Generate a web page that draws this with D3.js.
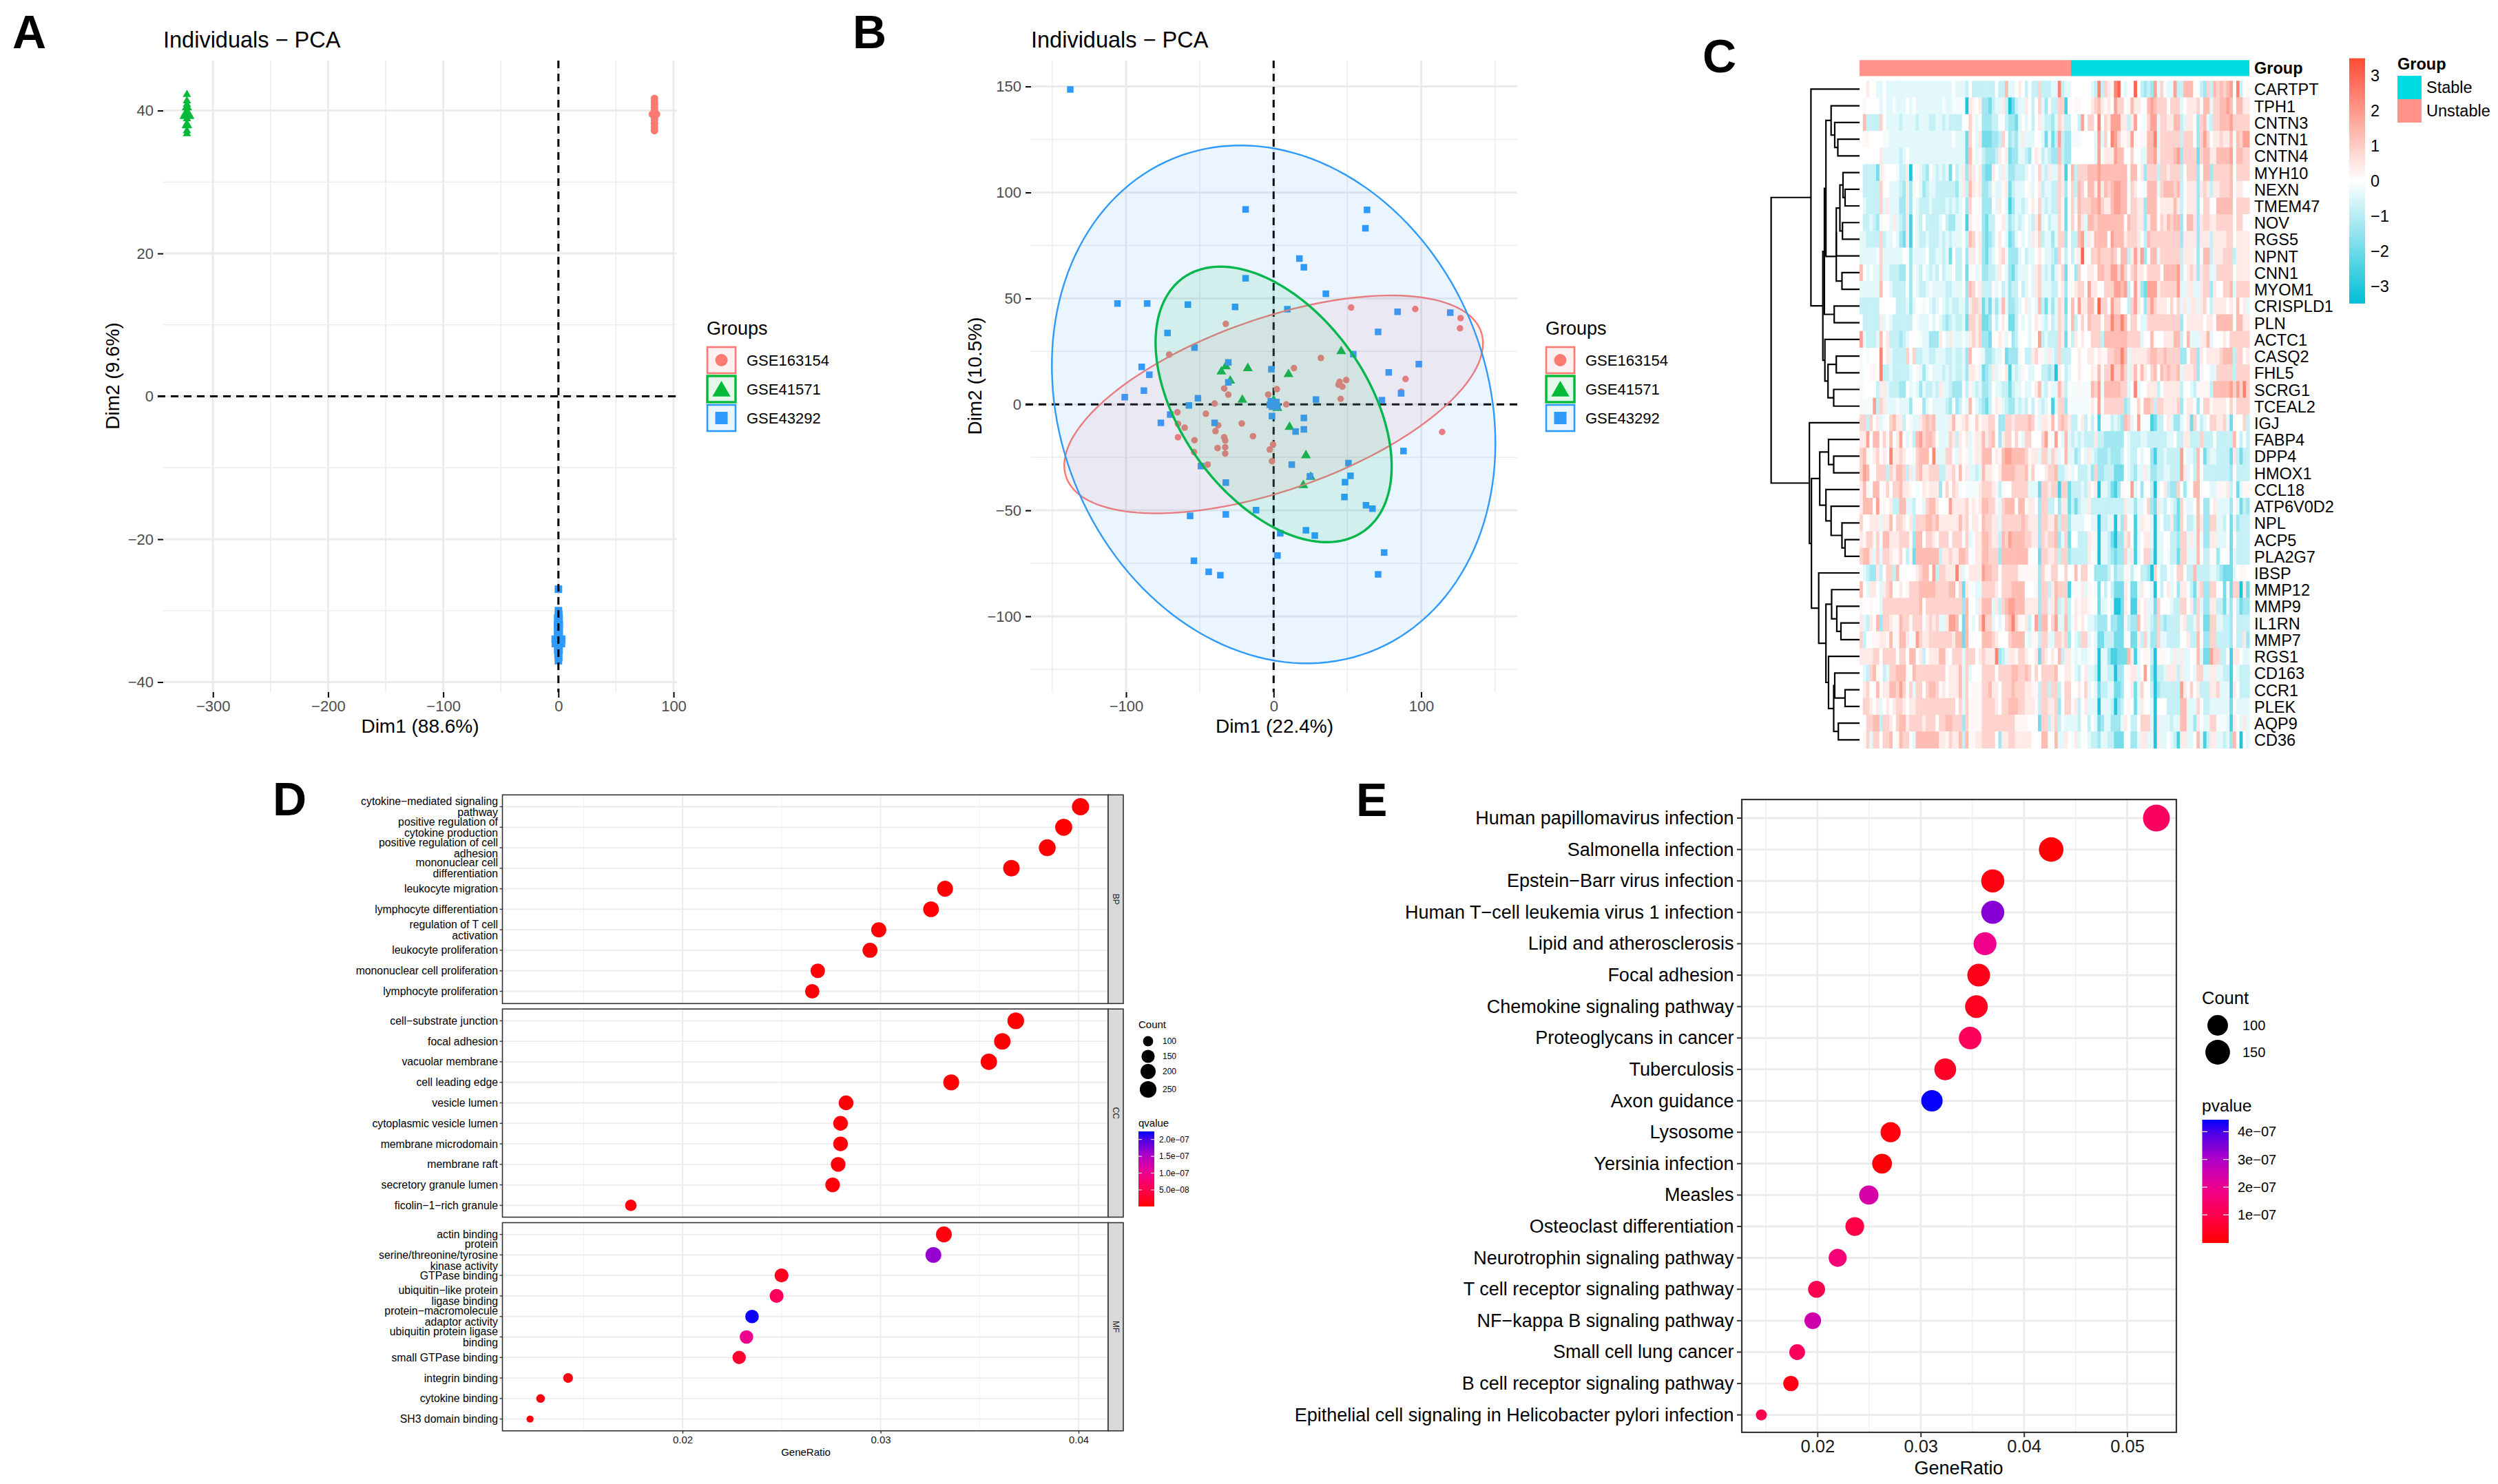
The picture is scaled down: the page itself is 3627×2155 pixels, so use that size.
<!DOCTYPE html>
<html><head><meta charset="utf-8">
<script src="https://cdn.jsdelivr.net/npm/d3@7"></script>
<style>html,body{margin:0;background:#fff}svg{display:block}text{font-family:"Liberation Sans",Arial,sans-serif}</style>
</head><body><svg id="c" width="3627" height="2155"></svg>
<script>
// ---------- DATA ----------
const groupNames=["GSE163154","GSE41571","GSE43292"];
// Panel A scores
const aRedX=[83.4,83.4,83.4,83.4,83.4,83.4,83.4,81.6,85.2,83.4,83.4,83.4,83.4,83.4];
const aRedY=[41.7,41.2,40.8,40.4,40,39.6,39.5,39.5,39.5,39.1,38.7,38.2,37.7,37.2];
const aGreenX=[-322.6,-322.6,-322.6,-323.5,-321.7,-322.6,-324.5,-320.7,-325.5,-319.7,-322.6,-322.6,-323.6,-321.6,-322.6,-322.6];
const aGreenY=[42.4,41.5,41,40.5,40.5,40,39.6,39.6,39.3,39.3,39,38.3,38,38,37.3,36.9];
const aBlueX=[0,0,.3,-.6,.6,-.8,.8,-.7,.7,-2.8,2.8,0,-2.6,2.6,-.6,.6,-.3,.3,0];
const aBlueY=[-27,-30,-30.5,-31,-31,-32,-32,-33,-33,-34,-34,-34,-34.6,-34.6,-35.5,-35.5,-36.2,-36.5,-37];
// Panel B scores
const bRedX=[-32.4,52.5,96,126.7,126.3,-70.8,32,13.8,49.2,44.7,44,46.6,89.4,86.4,45.4,2.2,-33.5,-30.7,-40,8.6,-45.9,-65.2,-37.6,-21.6,-64.8,-60.3,-39.4,-14,-64.8,-53.6,-33.5,-32.8,-.4,-2.6,-32.8,-38,-32.8,-53.9,-44.7,-1.1,114.2,-3.7];
const bRedY=[38,45.7,45,40.7,35.9,23.5,21.9,17.1,11.5,10.6,9.3,8.4,12,6,2.6,7.2,7.5,4.6,.4,0,-4.4,-3.7,-9.9,-9,-9.2,-11,-12.6,-15,-15.5,-16.9,-15.5,-17,-18.9,-21.3,-20.2,-20.6,-23.2,-22.5,-28.4,-26.8,-13,4.6];
const bGreenX=[-32.4,-35.4,-17.5,-29.4,10.1,-21.2,45.8,10.8,21.9,25.1,20.1,0,2.6];
const bGreenY=[18.5,16,17.6,11.7,14.8,2.7,25.6,-10.1,-23.5,-33.7,-37.6,2.5,-1.2];
const bBlueX=[-137.8,-19,63.3,62.2,17.5,20.5,-19,35.4,-105.8,-85.7,-58.1,-26.1,9.3,84,119.7,-71.9,70.8,-53.6,-30.7,54,-1.5,-89.4,-84.2,98.4,78,-30.7,-87.9,-100.9,86.4,73.4,-51.3,28.7,-57.4,-70.1,-76.4,-1.1,-40,20.5,20.5,14.9,88,50.7,12.3,-49.2,52.1,24.6,48.4,-32.4,48,62.6,67,-11.9,-32.4,-56.6,21.9,27.9,4.5,2.6,74.9,-54,-44,-36.1,70.8,-1.9,1.9,-1.1,2.6,-2.6];
const bBlueY=[148.6,92,91.8,83.1,68.8,64.7,59.5,52.2,47.6,47.6,47.1,46,44.9,43.7,43.3,33.7,34.2,26.8,19.8,23.7,16.6,17.7,14,19,15.1,10.4,6.5,3.4,5.2,2,2.9,2.3,-.5,-4.8,-8.7,-5.5,-8.7,-6.4,-11.8,-12.8,-22,-27.7,-28.4,-29.1,-33.7,-33.9,-36.7,-36.9,-43.7,-47.6,-49.2,-49.9,-51.9,-52.6,-59.4,-61.9,-60.8,-71.3,-69.9,-73.8,-79,-80.6,-80.2,1.5,1.1,-1.1,-1.1,-.2];
// Confidence ellipses: half-width, half-height, correlation (same order as the groups)
const ellipseA=[141.9,80,150.3];
const ellipseB=[51.4,65,122.2];
const ellipseRho=[.56,-.45,-.15];
// Panel C
const genes=["CARTPT","TPH1","CNTN3","CNTN1","CNTN4","MYH10","NEXN","TMEM47","NOV","RGS5","NPNT","CNN1","MYOM1","CRISPLD1","PLN","ACTC1","CASQ2","FHL5","SCRG1","TCEAL2","IGJ","FABP4","DPP4","HMOX1","CCL18","ATP6V0D2","NPL","ACP5","PLA2G7","IBSP","MMP12","MMP9","IL1RN","MMP7","RGS1","CD163","CCR1","PLEK","AQP9","CD36"];
const unstableCols=64, stableCols=54;
const heatLevels="ABCDEFGHIJKLMNO";
const heatValues=[-3.1,-2.5,-1.9,-1.3,-.8,-.4,-.15,0,.15,.4,.85,1.3,1.8,2.4,3];
const unstableRows=[
"HHJHHFFH FFFFFFFF FFFFFFFF FFFFHFFF EHEEEEEE EHEELFFH JHEHEEKE EEFFNEFF",
"HIHHHHFH FFGFFFHF HFFFFFFF FGFFGGGG AJIHJDDC EFFJEACE FFJHEHKF DIEEKKBH",
"HLEEEEKH FFFFEFFF FEFFFEEF FEFEEEEH HKIFHDDD EEHHEDDC FHFHEHJF EEDFKJEE",
"HIIHHHHG GFFFFFFF FFFFFFFF FFFFHFFF CKHFJCCC DDEKHDED FJFFFHHF CFCEMEDD",
"HHHHHHJF FFFFEFHF FFFFFFFF FFFFFFFF CLIFIEDD DEJHJCDD FFEDHJIE FEDDLEDD",
"HEEEECJI HHHGEEJA HIFEDHFE FEFCHEFJ DKJHJDCC JHFJFDDE EEFHFHKF EJFFKJBH",
"HEEEEEKH HFFFEDJD IHFDEFFE EEEEEDFJ ELJIJDDE IFFIJCEF FFHIFHJE FFEEKJDH",
"HFEEEEKF JFFFDDJD HFEEEFEE EEFEFEFH DKHHIDDD HFJHFBDF FEFHJHKF EFEEKICH",
"HEEFEDIH HFJFEDJB HFEHEEEE FHEDDFFH BJHIHDCE EHHJFDEF EFHFEJLF HEFFKICH",
"FFEEEEKE FFHFDCJB HFEEFEEE FEFEFFFH ELKIJDCD EHJHFCDF HFHFJIKE FFDFKKDH",
"FFFFFGKF FFFFFHHD FFFFHEEF FEFCHEEH DJJHJDCE FHJKIDDD FHEFFHJH FFEDKHEH",
"LHFHFFKF FEEEDDHD IFEGFEFE HEFFHEEH CIHFIDDE EFJHFDCE FFFHFJKF EFDFIKCH",
"FFFFFFLH HFEEEEHD HFEEFGFF FFEEFFFH DLKIJEEE IFHEFDEE HEFHFJKF FFEEIJDH",
"EEEEEEHH HHHEEEFD FHHGHFEF HFEFEEFF DJKKJCEC FDFLFDDE FHJFHFLE CFDFKJCH",
"HEEEEEJF HFEEEEEE HGFFFHFH FEDEFEEF CKKJKCCD HEHJHCCE HFHFHJIF EIEFKJDH",
"MFEEEFLH JEEEDEFH HHGFFDDD JHFJFFFG FJKJKDDC HHJIFHDE HHHFHHME FEEEKJCH",
"GHGHHHNH JFEEEEKH KEEFFEEF FFEEFEEF DLHHIFDD EFFHCDDD IHEEJKII FJFEKEEE",
"GHHIIHNE EFEEEEEF HIFDFHFF FEFEFEEF DJJIFCDE JFIHJBFE FIHFFHHE EDEAJHEF",
"IHHHHEJJ FEEEDDHF GFDFEEFE JFFEDDDH EIFEFDDE HFFEECEF FHFFHJLF EIFFLJEH",
"GGGGMEKJ FFFGFFFD HHHDFHFF FFEDGDEH FLHFEDCE HJIFEDDF EFEHEHFE FHBFKKDH",
"KKEKHJFG HKLJJEHG FFJKLKLF FFFJLIIJ KIHKIJJK KHDDKKJK KKKLKIFJ JILHKLKJ",
"JJMHLLHK ILHJMHFI ELMKLLKH FFFKJEJH JFIJJLJK LHDJKKHK HFKKHHHK MHHMHFLF",
"KLIHJKHJ HNJJKJHH GKLLLHNF FFKKGFJH IFIJJLLL HJILMMLL LLKIJJFK KFKJFHLF",
"KMLHHKKK EKJLLKEJ FKLJJKKK EEJJKILH JFFEFLJJ IHJLLLLK KKLIKHHH JKKLEEFI",
"JLIHLLHI KHKKLJJI HGHJIJJJ DHKHKJGH GGGGJKKK JIEIHHKK KKKFFFCK KJKKBKKC",
"JLLLHMHI HJEELLFF EHHFKLLJ HHHMJJJJ KIJIJLLK KIFKLLLH LLIJJHDK KEEHDJJC",
"KHHJJJFJ JLHKKJHJ EKKKLLKL JJJJJJLJ KHJJHLKK JJFKKKKK KLKJJJDK KJJLEKKD",
"JIKKIKGL LJJJKKKI DLLHKKJI KKKHKKKH KFGJJLLK JJELKMLL LLKKJJDK JKKLDFKC",
"KLLJFKFK KJIIKHEI CLLLLLLL EJJKJJLL KHGJJLLK KKDLLLLL LLLHHHCK KJJKEKKD",
"HFEDDJEH KKELHHHH HJKLLHME KKJJJNJF HJJJJMLL KKHKKKKK IIIIIIDK IIKKHHKH",
"LHFJJHFJ KLHHJHIK KKLLLLLK KKKLLHKC JHGFFKKK KJHKKKLL LLHHHIDK KEJLKKKB",
"IHHIHHFK KKKKKKKK KKLHKKKK KKKKKKKD LHHFJLLL FJEKLMML LLJJJJDK KFJLEFKE",
"JFEJHLDK KJIILKKI KKKGJKJK FFJMMLHC LHFHKNKK FHFHKLNK IIJEHMDL LHKMFFLE",
"KEHHIIJJ ILIILLJG GMKJJKKK KKKKJLLC LHHHHLLL KJHHHKLL LLGFIIEK KFFKKJKD",
"JJJJKKHK KKKHKKHL LHJEHJJJ LLIHKKKF KKKHJKJJ JNDEFJJI KKJHHJCK JHJHLEJJ",
"HFEKLIHE FKKLLLIH LKKKKKKK KKHJJJLF KFHHHKKK KHKKKKLL KKLKHKHK KKKLHHJJ",
"HJKHHLHJ JLLKMKHK FKKHKLLK IJHJJJLF KHIIIKKL JJHKKKLK KKJJIIEK KEKKEHKK",
"HKKJHJFH JHJKKJHJ JKKKKKKK KKKKKHKF KIIIIKKK KJHKKLLL KKJJJIEK KJJKDHKK",
"HHKKLLEK KJHKLLJK KKKJKKKH KKLLKKKD KIIIIKKK KKKKKKKI IIIHHHCK KEJKEGFF",
"HIKFKKHK KLHILKKH FLLLLLLL JJIKJJLE LIIJJKKK KHDJJKKJ JJJJHHHL LHHLFFJH"];
const stableRows=[
"HHHHHHFE NEKJINOH FHHOHEDE DMFKGFFM EELLLHHE DKELKLKL MHNEHI",
"HIIHHHJK LJIJHMKK HILJJHHL MLKKKHKK KFHJJJKH LLFKKLLM LHLLJJ",
"HHEMHKKH NHKJMMMJ JEJMHGGK MMFKKJJL LEFJJHDK LFEKKLLL MKKKKK",
"GGGHHHHF MFKHNMKI IJMIHIIL LNFKKKKK KEKKKHDK MKHJJKJJ LHLKMM",
"HHHHHHHF MHJJJMLL HHKHHFFL LMFKKKKL MDKKKKCK LLJJLLLL MHLLKK",
"LEKKKLLL MLLLLLLL LHLLHJDK KKEKKJKK KEHKKKDH LLDKKKKK LHKKKK",
"KELKHLLJ MJLKLMML LGKJHGGL LLFKLLLK LEHJJJDJ KJEJJKKK LHJJHH",
"KFLKKKLL MKJJLMML LHKKJJDL LLHJJJJL JEHJJJDH KKHHLLLL LHKKKK",
"KHLJFLLK LLLLLLLL HLKKJJDJ LLHKJLKL LDHLLJDJ KKJJKKKK KHKKHH",
"EELMFJIL LLLHMLLL JKKKJHEL KKKKKKKK KDJJJJDJ JJEJJJJK KHJJJJ",
"EIJOHHKK LKKKLKHL LEJMJMDG LLFKKKKK KEJJJIDI LLEJJJKK KEJJJJ",
"HDKHHJJH LLKKMMKM KHKLJJHK KKKHLLLL MEHJKJDJ KKFFKKKK KHJJJJ",
"IJKKHMJJ HHKKKMML MEHMJDCM MMJKKKKK MFFJJFFJ KKDJHHKK LFKKKK",
"LHMJJLLH OKKHMKKH HEKMJHDK MKJJJHKH KFJFJJFJ KHEJJJJH JHLHJF",
"LEHKHLKK KHKKNLLN LHKKHFFK KKKKKKKK KDHJJJJJ HJJHLLLL LHLLJJ",
"EJHJHHKK KELLLLLL LKKKKFHH LHHHJJJL LEHLFFFJ JLFHHHJH KKKKKK",
"HHJHHJJH JIIKKLLN LFJJJJJK LLKKLKKK KDDHKKDJ HJJJJKLL LEKKHJ",
"HHJHHHJI LIKKNKKM KFJLILJH KLHLKLKK LFJJJKDI HHFFKKKK KEKKKK",
"GGIGGGLK MGLLLLLK KFHNFHHJ JJEHJJJJ JEHHFEII IIELLLLL MKMKNK",
"GGGGGGJH MHKKKKKK DEHHKHLL KEKKJJJJ KDHJJHDH KKIJJJJH KIKKKK",
"EEHJEHEH BGGGEFED LKFHMHGG BCEEHJFD DFHJCKGE FHKKJJKF CHHHKE",
"EFEFEEEJ EEDDDDDD HFEEEFFE EEEEEFFH EEJJEEEK EEEHEEEE ELHEHE",
"FDEHFJFE DDDEDDDE HFEEHFHH DBEEFEEE EMHFFELH CEFFEEEE CJECEE",
"FHEEEFDK DDEEECCC HFEDFFJF DDEEFFEE EMJFHELH EEEEEEEE DHEEEE",
"EEEFEJHJ AFFECBDI HHMFHDHH EAFHJEDD KHDGHLLH HHFFIIIJ EHCFII",
"ECEFFJEE EEEEEEEE JFFDFFHK DCJFEHFE CKGFFHLH DDHJFFFF DHFCED",
"FFFFHHFF AEEFFAFD KHHBFJII FAFHEEJD CKHEEFLJ DDKKFFEH CFDEEE",
"HHEEEJII AFFECADD JKHBFHJJ FAFFHHEE DKKFJFLG DDJJFFFH CHEEEE",
"EEEEEJGG AFFEDCDD KFJBFHKK EAFFHGEE CKKFFFLH EEIIDGHH CFEEEE",
"HLHKKHHD DDDEGDEE IIEGHEED AKHEEHFH KKHEELEE EEFFEDCC CFHIIH",
"GIGJFIHG CGEHECCC JGCCFJHH FAHEHJFH DJJGECJK DDKKHHCH CKKAJC",
"HJIJJIHH CFFHFAAC JHBBJHJF FCKHHHFE EKKHJDKF DDJJEECF DHECDD",
"GJHJHFFE DDDHDDCC IEDDLHJF EDKEDEEE EIJEEFKG CCKKFFEE DHEEEE",
"HFEKKFHF CCEEECCC HHCCJEKF DDKFFEEE EHHJEELH DDKKEEEE DHEEJD",
"GFGFFGHF AFFDBBCC CLJBFHII EAIIGHFJ FJFFHHLF CCMKKEEH BJJHFF",
"HFEHJFFE AFFEEADD HIJJFHMH DAEEFJJJ EJFFHFKK FFJJFFEE BHFEEE",
"HHJHKFHF CEEFFCCD HHJCFKHH EADEEEEE EMJGKHJE EEJJKFFF BJHEEE",
"IJEHJFFF AFFFEADE HIHCFJHH FAHHHEEE ELLFFFKH EEFFFFFF CHFFFF",
"FFEHHEHF CDFFDDDF JHEEHKKK FAJFFFEF FLLFFDJH FFKKGGGF BJHFJF",
"GJFHHFEE DFFEECCC HHDDFJJF FAJFFHFE BJJFFHLF BEJJFFEF DLHAHF"];
// Dendrogram [merge height, child, child]
const treeTop=[171,
 [94,"CARTPT",
  [71,
   [68,
    [65,
     [55,"TPH1",[48,"CNTN3",[42,"CNTN1","CNTN4"]]],
     [45,
      [45,
       [38,[32,"MYH10",[28,"NEXN","TMEM47"]],[33,"NOV","RGS5"]],
       "NPNT"],
      [34,"CNN1","MYOM1"]]],
    [49,"CRISPLD1","PLN"]],
   [67,"ACTC1",[61,[45,"CASQ2","FHL5"],[50,"SCRG1","TCEAL2"]]]]],
 [97,"IGJ",
  [93,
   [77,
    [60,"FABP4",[50,"DPP4","HMOX1"]],
    [65,"CCL18",[55,"ATP6V0D2",[34,"NPL",[28,"ACP5","PLA2G7"]]]]],
   [79,"IBSP",
    [65,
     [54,"MMP12",[44,"MMP9",[36,"IL1RN","MMP7"]]],
     [60,"RGS1",[50,[48,"CD163",[28,"CCR1","PLEK"]],[41,"AQP9","CD36"]]]]]]]];
// Panel D
const dFacets=["BP","CC","MF"];
const dTerms=[
[["cytokine−mediated signaling","pathway"],["positive regulation of","cytokine production"],["positive regulation of cell","adhesion"],["mononuclear cell","differentiation"],["leukocyte migration"],["lymphocyte differentiation"],["regulation of T cell","activation"],["leukocyte proliferation"],["mononuclear cell proliferation"],["lymphocyte proliferation"]],
[["cell−substrate junction"],["focal adhesion"],["vacuolar membrane"],["cell leading edge"],["vesicle lumen"],["cytoplasmic vesicle lumen"],["membrane microdomain"],["membrane raft"],["secretory granule lumen"],["ficolin−1−rich granule"]],
[["actin binding"],["protein","serine/threonine/tyrosine","kinase activity"],["GTPase binding"],["ubiquitin−like protein","ligase binding"],["protein−macromolecule","adaptor activity"],["ubiquitin protein ligase","binding"],["small GTPase binding"],["integrin binding"],["cytokine binding"],["SH3 domain binding"]]];
const dRatio=[[.0401,.03925,.03842,.03661,.03326,.03255,.02991,.02947,.02683,.02655],[.03683,.03615,.03547,.03357,.02826,.02798,.02798,.02786,.02758,.01739],[.0332,.03267,.025,.02475,.02351,.02323,.02286,.01422,.01283,.0123]];
const dCount=[[269,263,257,245,223,218,200,197,180,178],[247,242,238,225,189,187,187,187,185,117],[222,219,168,166,157,156,153,95,86,82]];
const dQ=[[.02e-7,.02e-7,.02e-7,.02e-7,.03e-7,.03e-7,.04e-7,.04e-7,.04e-7,.04e-7],[.02e-7,.03e-7,.03e-7,.04e-7,.05e-7,.05e-7,.05e-7,.05e-7,.05e-7,.08e-7],[.08e-7,1.65e-7,.2e-7,.6e-7,2.2e-7,1.0e-7,.3e-7,.1e-7,.1e-7,.1e-7]];
const dSizeLegend=[100,150,200,250];
const dColorTicks=[2e-7,1.5e-7,1e-7,.5e-7], dColorLabels=["2.0e−07","1.5e−07","1.0e−07","5.0e−08"];
// Panel E
const eTerms=["Human papillomavirus infection","Salmonella infection","Epstein−Barr virus infection","Human T−cell leukemia virus 1 infection","Lipid and atherosclerosis","Focal adhesion","Chemokine signaling pathway","Proteoglycans in cancer","Tuberculosis","Axon guidance","Lysosome","Yersinia infection","Measles","Osteoclast differentiation","Neurotrophin signaling pathway","T cell receptor signaling pathway","NF−kappa B signaling pathway","Small cell lung cancer","B cell receptor signaling pathway","Epithelial cell signaling in Helicobacter pylori infection"];
const eRatio=[.05283,.04264,.03698,.03698,.03623,.03562,.0354,.03479,.03238,.03109,.02709,.02626,.02498,.02362,.02196,.01992,.01955,.01804,.01743,.01457];
const eCount=[185,149,129,129,127,125,124,122,113,109,95,92,87,83,77,70,68,63,61,51];
const eP=[1.25e-7,.05e-7,.2e-7,3.4e-7,1.9e-7,.3e-7,.4e-7,1.2e-7,.5e-7,4.4e-7,.15e-7,.1e-7,2.4e-7,.9e-7,1.6e-7,1e-7,2.5e-7,1.2e-7,.25e-7,1e-7];
const eSizeLegend=[100,150];
const ePTicks=[4e-7,3e-7,2e-7,1e-7], ePLabels=["4e−07","3e−07","2e−07","1e−07"];

// ---------- HELPERS ----------
const svg=d3.select("#c");
const cols=["#FC7A72","#00BA38","#2E9AFE"];
const T=(g,x,y,s,o={})=>g.append("text").attr("x",x).attr("y",y).text(s)
  .attr("font-size",o.size||22).attr("fill",o.fill||"#000").attr("text-anchor",o.anchor||"start")
  .attr("dominant-baseline",o.base||"central").attr("font-weight",o.weight||"normal")
  .attr("transform",o.rot?`rotate(${o.rot} ${x} ${y})`:null);
[["A",18,70],["B",1238,70],["C",2472,105],["D",396,1184],["E",1969,1185]].forEach(d=>
  T(svg,d[1],d[2],d[0],{size:68,weight:"bold",base:"auto"}));
function styleAxis(g,size,tickW,tickCol,textCol){
  g.select(".domain").remove();
  g.selectAll(".tick line").attr("stroke",tickCol||"#000").attr("stroke-width",tickW||2);
  g.selectAll(".tick text").attr("font-size",size).attr("fill",textCol||"#4D4D4D")
   .style("font-family",'"Liberation Sans",Arial,sans-serif');
}
function marker(g,kind,x,y,s,col){
  if(kind===0) g.append("circle").attr("cx",x).attr("cy",y).attr("r",s/2).attr("fill",col);
  else if(kind===1) g.append("path").attr("d",`M${x} ${y-s*.5}L${x+s*.55} ${y+s*.45}L${x-s*.55} ${y+s*.45}Z`).attr("fill",col);
  else g.append("rect").attr("x",x-s/2).attr("y",y-s/2).attr("width",s).attr("height",s).attr("fill",col);
}
function pca(o){
  const g=svg.append("g");
  const L=o.l,R=o.r,Tp=88,B=1005;
  const x=d3.scaleLinear(o.xd,o.xr), y=d3.scaleLinear(o.yd,o.yr);
  o.xminor.forEach(v=>g.append("line").attr("x1",x(v)).attr("x2",x(v)).attr("y1",Tp).attr("y2",B).attr("stroke","#EDEDED").attr("stroke-width",1.6));
  o.yminor.forEach(v=>g.append("line").attr("y1",y(v)).attr("y2",y(v)).attr("x1",L).attr("x2",R).attr("stroke","#EDEDED").attr("stroke-width",1.6));
  o.xmajor.forEach(v=>g.append("line").attr("x1",x(v)).attr("x2",x(v)).attr("y1",Tp).attr("y2",B).attr("stroke","#EBEBEB").attr("stroke-width",3));
  o.ymajor.forEach(v=>g.append("line").attr("y1",y(v)).attr("y2",y(v)).attr("x1",L).attr("x2",R).attr("stroke","#EBEBEB").attr("stroke-width",3));
  const ax=g.append("g").attr("transform",`translate(0,${B})`).call(d3.axisBottom(x).tickValues(o.xmajor).tickSize(8).tickPadding(4));
  styleAxis(ax,22);
  const ay=g.append("g").attr("transform",`translate(${L},0)`).call(d3.axisLeft(y).tickValues(o.ymajor).tickSize(8).tickPadding(6));
  styleAxis(ay,22);
  const dash=()=>{
    g.append("line").attr("x1",L-8).attr("x2",R).attr("y1",y(0)).attr("y2",y(0)).attr("stroke","#000").attr("stroke-width",3).attr("stroke-dasharray","11 8");
    g.append("line").attr("x1",x(0)).attr("x2",x(0)).attr("y1",Tp).attr("y2",B).attr("stroke","#000").attr("stroke-width",3).attr("stroke-dasharray","11 8");
  };
  if(o.dashFirst) dash();
  o.sets.forEach((s,k)=>s[0].forEach((v,i)=>marker(g,k,x(v),y(s[1][i]),o.sizes[k],cols[k])));
  if(o.ellipses){
    const t=d3.range(0,6.2832,.04);
    const ln=d3.line().x(d=>x(d[0])).y(d=>y(d[1])).curve(d3.curveLinearClosed);
    ellipseA.forEach((a,i)=>{
      const b=ellipseB[i],dl=Math.acos(ellipseRho[i]);
      g.append("path").attr("d",ln(t.map(q=>[a*Math.cos(q),b*Math.cos(q-dl)])))
       .attr("fill",cols[i]).attr("fill-opacity",.1).attr("stroke",cols[i]).attr("stroke-width",i==1?3.4:2.4);
    });
  }
  if(!o.dashFirst) dash();
  T(g,L,58,"Individuals − PCA",{size:32.5,fill:"#000"});
  T(g,o.xlab,1054,o.xt,{size:28,anchor:"middle",fill:"#000"});
  T(g,o.ylab,546,o.yt,{size:28,anchor:"middle",rot:-90,fill:"#000"});
  T(g,o.lg,477,"Groups",{size:27});
  [523,565,607].forEach((cy,i)=>{
    g.append("rect").attr("x",o.lg+1).attr("y",cy-19).attr("width",41).attr("height",38)
     .attr("fill",cols[i]).attr("fill-opacity",.1).attr("stroke",cols[i]).attr("stroke-width",i==1?3.4:2.6);
    marker(g,i,o.lg+21.5,cy,i==1?24:18,cols[i]);
    T(g,o.lg+58,cy,groupNames[i],{size:22,fill:"#000"});
  });
}
pca({l:237,r:983,xd:[-300,100],xr:[309.2,978],yd:[40,-40],yr:[160.6,990.5],
 xmajor:[-300,-200,-100,0,100],xminor:[-250,-150,-50,50],ymajor:[-40,-20,0,20,40],yminor:[-30,-10,10,30],
 sets:[[aRedX,aRedY],[aGreenX,aGreenY],[aBlueX,aBlueY]],sizes:[11,11,11],
 xlab:610,ylab:163,xt:"Dim1 (88.6%)",yt:"Dim2 (9.6%)",lg:1026});
pca({l:1497,r:2203,xd:[-100,100],xr:[1635,2063.5],yd:[150,-100],yr:[125.6,895],
 xmajor:[-100,0,100],xminor:[-150,-50,50,150],ymajor:[-100,-50,0,50,100,150],yminor:[-125,-75,-25,25,75,125],
 sets:[[bRedX,bRedY],[bGreenX,bGreenY],[bBlueX,bBlueY]],sizes:[9.5,13,9.5],ellipses:true,dashFirst:true,
 xlab:1850.5,ylab:1415,xt:"Dim1 (22.4%)",yt:"Dim2 (10.5%)",lg:2244});

// ---------- PANEL C ----------
(function(){
 const g=svg.append("g");
 const nc=unstableCols+stableCols;
 const X=d3.scaleLinear([0,nc],[2700,3266]);
 const Y=d3.scaleBand(genes,[117.3,1086.4]);
 const color=d3.scaleLinear([-3.5,0,3.5],["#00BFD8","#FFFFFF","#FF4B33"]);
 genes.forEach((gn,r)=>{
  const s=(unstableRows[r]+stableRows[r]).replace(/ /g,"");
  for(let c=0;c<nc;c++){
   const v=heatValues[heatLevels.indexOf(s[c]||"H")];
   g.append("rect").attr("x",X(c)).attr("y",Y(gn)).attr("width",X(1)-X(0)+.5).attr("height",Y.bandwidth()+.5).attr("fill",color(v));
  }
  T(g,3273,Y(gn)+Y.bandwidth()/2+1,gn,{size:23.5});
 });
 g.append("rect").attr("x",X(0)).attr("y",87.3).attr("width",X(unstableCols)-X(0)).attr("height",23.2).attr("fill","#FF9289");
 g.append("rect").attr("x",X(unstableCols)).attr("y",87.3).attr("width",X(nc)-X(unstableCols)).attr("height",23.2).attr("fill","#00DCE3");
 T(g,3273,99,"Group",{size:23.5,weight:"bold"});
 // dendrogram
 const H=d3.scaleLinear([0,171],[2700,2571.6]);
 const root=d3.hierarchy(treeTop,d=>typeof d==="string"?null:d.slice(1));
 root.eachAfter(n=>{
  if(!n.children){n.py=Y(n.data)+Y.bandwidth()/2;n.px=H(0);}
  else{n.py=(n.children[0].py+n.children[1].py)/2;n.px=H(n.data[0]);}
 });
 root.each(n=>{ if(n.children){
  const [a,b]=n.children;
  g.append("path").attr("d",`M${a.px} ${a.py}H${n.px}V${b.py}H${b.px}`).attr("fill","none").attr("stroke","#000").attr("stroke-width",2.2);
 }});
 // colour bar
 const defs=svg.append("defs");
 const lg=defs.append("linearGradient").attr("id","hb").attr("x1",0).attr("x2",0).attr("y1",0).attr("y2",1);
 [3.5,0,-3.5].forEach((v,i)=>lg.append("stop").attr("offset",i/2).attr("stop-color",color(v)));
 g.append("rect").attr("x",3411).attr("y",84.6).attr("width",23).attr("height",356.2).attr("fill","url(#hb)");
 const cb=d3.scaleLinear([3,-3],[109.8,415.6]);
 [3,2,1,0,-1,-2,-3].forEach(v=>T(g,3442,cb(v),d3.format("d")(v),{size:23.5}));
 T(g,3481,93,"Group",{size:23.5,weight:"bold"});
 g.append("rect").attr("x",3481).attr("y",110).attr("width",35).attr("height",34).attr("fill","#00DCE3");
 g.append("rect").attr("x",3481).attr("y",144).attr("width",35).attr("height",34).attr("fill","#FF9289");
 T(g,3523,127,"Stable",{size:23.5});T(g,3523,161,"Unstable",{size:23.5});
})();

// ---------- PANEL D ----------
const lab=d3.scaleLinear([0,.23,.45,.68,.9,1],["#FF0000","#FF0050","#EE0090","#B000C8","#4A00E8","#0000FF"]);
(function(){
 const g=svg.append("g");
 const L=729.5,R=1609,SR=1631;
 const x=d3.scaleLinear([.02,.04],[991,1566]);
 const tops=[1154.3,1465.2,1775.5],bots=[1457.3,1767.5,2077.8],firsts=[1171.5,1482.4,1792.6];
 const col=d3.scaleLinear([0,2.24e-7],[0,1]);
 const sz=c=>d3.scaleLinear([0,1],[5.2,12.5])(Math.sqrt(Math.max(0,(c-82)/(269-82))));
 dFacets.forEach((f,k)=>{
  const y=d3.scaleLinear([0,9],[firsts[k],firsts[k]+268]);
  [.015,.025,.035].forEach(v=>g.append("line").attr("x1",x(v)).attr("x2",x(v)).attr("y1",tops[k]).attr("y2",bots[k]).attr("stroke","#EFEFEF").attr("stroke-width",1));
  [.02,.03,.04].forEach(v=>g.append("line").attr("x1",x(v)).attr("x2",x(v)).attr("y1",tops[k]).attr("y2",bots[k]).attr("stroke","#EBEBEB").attr("stroke-width",1.8));
  dTerms[k].forEach((t,i)=>{
   g.append("line").attr("x1",L).attr("x2",R).attr("y1",y(i)).attr("y2",y(i)).attr("stroke","#EBEBEB").attr("stroke-width",1.8);
   g.append("line").attr("x1",L-4).attr("x2",L).attr("y1",y(i)).attr("y2",y(i)).attr("stroke","#333").attr("stroke-width",1.4);
   t.forEach((s,j)=>T(g,723,y(i)+(j-(t.length-1)/2)*16,s,{size:15.8,anchor:"end"}));
  });
  dRatio[k].forEach((v,i)=>g.append("circle").attr("cx",x(v)).attr("cy",y(i)).attr("r",sz(dCount[k][i])).attr("fill",lab(col(dQ[k][i]))));
  g.append("rect").attr("x",L).attr("y",tops[k]).attr("width",R-L).attr("height",bots[k]-tops[k]).attr("fill","none").attr("stroke","#333").attr("stroke-width",1.6);
  g.append("rect").attr("x",R).attr("y",tops[k]).attr("width",SR-R).attr("height",bots[k]-tops[k]).attr("fill","#D9D9D9").attr("stroke","#333").attr("stroke-width",1.6);
  T(g,1620,(tops[k]+bots[k])/2,f,{size:12,anchor:"middle",rot:90,fill:"#1A1A1A"});
 });
 const ax=g.append("g").attr("transform","translate(0,2077.8)").call(d3.axisBottom(x).tickValues([.02,.03,.04]).tickSize(4).tickPadding(4).tickFormat(d3.format(".2f")));
 styleAxis(ax,15,1.4,"#333","#1A1A1A");
 T(g,1170,2108,"GeneRatio",{size:15,anchor:"middle"});
 T(g,1653,1487.6,"Count",{size:15});
 const ly=[1512,1534,1556,1582];
 dSizeLegend.forEach((c,i)=>{
  g.append("circle").attr("cx",1667).attr("cy",ly[i]).attr("r",sz(c)).attr("fill","#000");
  T(g,1688,ly[i],c,{size:12});
 });
 T(g,1653,1630,"qvalue",{size:15});
 const lgq=svg.append("defs").append("linearGradient").attr("id","qg").attr("x1",0).attr("x2",0).attr("y1",1).attr("y2",0);
 d3.range(0,1.01,.1).forEach(t=>lgq.append("stop").attr("offset",t).attr("stop-color",lab(t)));
 g.append("rect").attr("x",1653).attr("y",1643).attr("width",23).attr("height",109).attr("fill","url(#qg)");
 const cy=d3.scaleLinear([0,2e-7],[1752.4,1654.7]);
 dColorTicks.forEach((v,i)=>{
  g.append("line").attr("x1",1653).attr("x2",1658).attr("y1",cy(v)).attr("y2",cy(v)).attr("stroke","#fff");
  g.append("line").attr("x1",1671).attr("x2",1676).attr("y1",cy(v)).attr("y2",cy(v)).attr("stroke","#fff");
  T(g,1683,cy(v),dColorLabels[i],{size:12});
 });
})();

// ---------- PANEL E ----------
(function(){
 const g=svg.append("g");
 const L=2529,R=3160,Tp=1161,B=2080;
 const x=d3.scaleLinear([.02,.05],[2638.8,3088.6]);
 const y=d3.scaleLinear([0,19],[1188,2054.7]);
 const col=d3.scaleLinear([0,4.43e-7],[0,1]);
 const sz=c=>d3.scaleLinear([0,1],[8,19.5])(Math.sqrt(Math.max(0,(c-51)/(185-51))));
 [.015,.025,.035,.045].forEach(v=>g.append("line").attr("x1",x(v)).attr("x2",x(v)).attr("y1",Tp).attr("y2",B).attr("stroke","#EFEFEF").attr("stroke-width",1.4));
 [.02,.03,.04,.05].forEach(v=>g.append("line").attr("x1",x(v)).attr("x2",x(v)).attr("y1",Tp).attr("y2",B).attr("stroke","#EBEBEB").attr("stroke-width",2.6));
 eTerms.forEach((t,i)=>{
  g.append("line").attr("x1",L).attr("x2",R).attr("y1",y(i)).attr("y2",y(i)).attr("stroke","#EBEBEB").attr("stroke-width",2.8);
  g.append("line").attr("x1",L-7).attr("x2",L).attr("y1",y(i)).attr("y2",y(i)).attr("stroke","#333").attr("stroke-width",2);
  T(g,2517.5,y(i),t,{size:27,anchor:"end"});
  g.append("circle").attr("cx",x(eRatio[i])).attr("cy",y(i)).attr("r",sz(eCount[i])).attr("fill",lab(col(eP[i])));
 });
 g.append("rect").attr("x",L).attr("y",Tp).attr("width",R-L).attr("height",B-Tp).attr("fill","none").attr("stroke","#333").attr("stroke-width",2.2);
 const ax=g.append("g").attr("transform",`translate(0,${B})`).call(d3.axisBottom(x).tickValues([.02,.03,.04,.05]).tickSize(7).tickPadding(4).tickFormat(d3.format(".2f")));
 styleAxis(ax,25.5,2,"#333","#1A1A1A");
 T(g,2844,2132,"GeneRatio",{size:27,anchor:"middle"});
 T(g,3197,1449,"Count",{size:25.5});
 [1489,1528].forEach((cyv,i)=>{
  g.append("circle").attr("cx",3220).attr("cy",cyv).attr("r",sz(eSizeLegend[i])).attr("fill","#000");
  T(g,3256,cyv,eSizeLegend[i],{size:20});
 });
 T(g,3197,1605,"pvalue",{size:24.6});
 const lgq=svg.append("defs").append("linearGradient").attr("id","pg").attr("x1",0).attr("x2",0).attr("y1",1).attr("y2",0);
 d3.range(0,1.01,.1).forEach(t=>lgq.append("stop").attr("offset",t).attr("stop-color",lab(t)));
 g.append("rect").attr("x",3197.5).attr("y",1626).attr("width",38.5).attr("height",179).attr("fill","url(#pg)");
 const cy=d3.scaleLinear([0,4e-7],[1804.4,1643.4]);
 ePTicks.forEach((v,i)=>{
  g.append("line").attr("x1",3197.5).attr("x2",3205).attr("y1",cy(v)).attr("y2",cy(v)).attr("stroke","#fff").attr("stroke-width",1.2);
  g.append("line").attr("x1",3228).attr("x2",3236).attr("y1",cy(v)).attr("y2",cy(v)).attr("stroke","#fff").attr("stroke-width",1.2);
  T(g,3249,cy(v),ePLabels[i],{size:20});
 });
})();
</script></body></html>
